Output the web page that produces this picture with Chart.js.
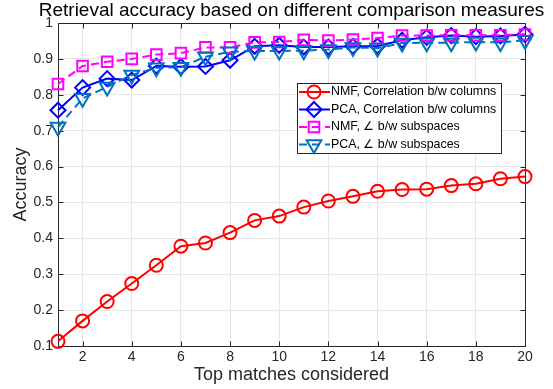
<!DOCTYPE html>
<html>
<head>
<meta charset="utf-8">
<script src="https://cdn.jsdelivr.net/npm/chart.js@4.4.1/dist/chart.umd.min.js"></script>
<style>
  html, body { margin: 0; padding: 0; background: #fff; }
  #wrap { position: relative; width: 553px; height: 389px; }
</style>
</head>
<body>
<div id="wrap"><canvas id="chart"></canvas></div>
<script>
// top matches considered (x)
const matches = [1, 2, 3, 4, 5, 6, 7, 8, 9, 10, 11, 12, 13, 14, 15, 16, 17, 18, 19, 20];

// accuracy per comparison measure
const nmfCorr = [0.113, 0.170, 0.224, 0.274, 0.325, 0.378, 0.387, 0.416, 0.450, 0.462,
                 0.487, 0.504, 0.517, 0.531, 0.536, 0.537, 0.547, 0.552, 0.566, 0.572];
const pcaCorr = [0.757, 0.820, 0.845, 0.841, 0.880, 0.878, 0.879, 0.896, 0.935, 0.938,
                 0.933, 0.933, 0.935, 0.936, 0.952, 0.960, 0.965, 0.962, 0.964, 0.968];
const nmfAngle = [0.830, 0.880, 0.892, 0.900, 0.912, 0.916, 0.932, 0.932, 0.946, 0.947,
                  0.953, 0.951, 0.954, 0.958, 0.965, 0.965, 0.966, 0.966, 0.966, 0.968];
const pcaAngle = [0.710, 0.790, 0.822, 0.855, 0.875, 0.877, 0.906, 0.920, 0.922, 0.922,
                  0.923, 0.926, 0.932, 0.930, 0.944, 0.945, 0.945, 0.947, 0.946, 0.952];

const seriesNames = [
  "NMF, Correlation b/w columns",
  "PCA, Correlation b/w columns",
  "NMF, \u2220 b/w subspaces",
  "PCA, \u2220 b/w subspaces"
];

const titleText = "Retrieval accuracy based on different comparison measures";
const xTicks = [2, 4, 6, 8, 10, 12, 14, 16, 18, 20];
const yTicks = [0.1, 0.2, 0.3, 0.4, 0.5, 0.6, 0.7, 0.8, 0.9, 1];

const axisColor = "#262626";
const fontFamily = "'Liberation Sans', Arial, Helvetica, sans-serif";

function pts(arr) {
  return arr.map((v, i) => ({ x: matches[i], y: v }));
}

// draw one marker by hand (used for the legend)
function marker(ctx, style, x, y, r, rot) {
  ctx.beginPath();
  if (style === "circle") {
    ctx.arc(x, y, r, 0, Math.PI * 2);
  } else if (style === "rect") {
    const s = r * Math.SQRT1_2;
    ctx.rect(x - s, y - s, 2 * s, 2 * s);
  } else if (style === "rectRot") {
    ctx.moveTo(x, y - r); ctx.lineTo(x + r, y); ctx.lineTo(x, y + r); ctx.lineTo(x - r, y); ctx.closePath();
  } else if (style === "triangle") {
    let a = (rot || 0) * Math.PI / 180;
    for (let k = 0; k < 3; k++) {
      const px = x + Math.sin(a) * r, py = y - Math.cos(a) * r;
      if (k === 0) ctx.moveTo(px, py); else ctx.lineTo(px, py);
      a += Math.PI * 2 / 3;
    }
    ctx.closePath();
  }
  ctx.stroke();
}

// box around the axes with inward tick marks on all sides
const boxPlugin = {
  id: "box",
  beforeDatasetsDraw(chart) {
    const { ctx, chartArea: a, scales: { x, y } } = chart;
    ctx.save();
    ctx.strokeStyle = axisColor;
    ctx.lineWidth = 1;
    const L = Math.round(a.left) + 0.5, R = Math.round(a.right) + 0.5;
    const T = Math.round(a.top) + 0.5, B = Math.round(a.bottom) + 0.5;
    ctx.strokeRect(L, T, R - L, B - T);
    ctx.beginPath();
    xTicks.forEach(v => {
      const px = Math.round(x.getPixelForValue(v)) + 0.5;
      ctx.moveTo(px, B); ctx.lineTo(px, B - 5);
      ctx.moveTo(px, T); ctx.lineTo(px, T + 5);
    });
    yTicks.forEach(v => {
      const py = Math.round(y.getPixelForValue(v)) + 0.5;
      ctx.moveTo(L, py); ctx.lineTo(L + 5, py);
      ctx.moveTo(R, py); ctx.lineTo(R - 5, py);
    });
    ctx.stroke();
    ctx.restore();
  }
};

// title centred over the axes, like matlab does
const titlePlugin = {
  id: "axTitle",
  afterDraw(chart) {
    const { ctx, chartArea: a } = chart;
    ctx.save();
    ctx.fillStyle = "#000";
    ctx.font = "19px " + fontFamily;
    ctx.textAlign = "center";
    ctx.textBaseline = "middle";
    ctx.fillText(titleText, (a.left + a.right) / 2, 11);
    ctx.restore();
  }
};

// legend box inside the plot, top right
const legendPlugin = {
  id: "legendBox",
  afterDraw(chart) {
    const ctx = chart.ctx;
    const bx = 297, by = 83, bw = 204, bh = 70;
    ctx.save();
    ctx.fillStyle = "#fff";
    ctx.fillRect(bx, by, bw, bh);
    ctx.strokeStyle = axisColor;
    ctx.lineWidth = 1;
    ctx.strokeRect(bx + 0.5, by + 0.5, bw, bh);
    chart.data.datasets.forEach((ds, i) => {
      const cy = by + 9 + i * 17.5;
      ctx.strokeStyle = ds.borderColor;
      ctx.lineWidth = ds.borderWidth;
      ctx.setLineDash(ds.borderDash || []);
      ctx.beginPath();
      ctx.moveTo(bx + 2, cy);
      ctx.lineTo(bx + 33, cy);
      ctx.stroke();
      ctx.setLineDash([]);
      ctx.lineWidth = ds.pointBorderWidth;
      marker(ctx, ds.pointStyle, bx + 17, cy, ds.pointRadius, ds.pointRotation);
      ctx.fillStyle = "#000";
      ctx.font = "12.4px " + fontFamily;
      ctx.textBaseline = "middle";
      ctx.textAlign = "left";
      ctx.fillText(ds.label, bx + 34, cy);
    });
    ctx.restore();
  }
};

const ctx = document.getElementById("chart").getContext("2d");
new Chart(ctx, {
  type: "line",
  data: {
    datasets: [
      {
        label: seriesNames[0],
        data: pts(nmfCorr),
        borderColor: "#ff0000",
        borderWidth: 2,
        pointStyle: "circle",
        pointRadius: 6.5,
        pointBorderWidth: 2,
        pointBackgroundColor: "rgba(0,0,0,0)",
        order: 3
      },
      {
        label: seriesNames[1],
        data: pts(pcaCorr),
        borderColor: "#0000ff",
        borderWidth: 2,
        pointStyle: "rectRot",
        pointRadius: 7.5,
        pointBorderWidth: 2,
        pointBackgroundColor: "rgba(0,0,0,0)",
        order: 2
      },
      {
        label: seriesNames[2],
        data: pts(nmfAngle),
        borderColor: "#ff00ff",
        borderWidth: 2,
        borderDash: [8, 5],
        pointStyle: "rect",
        pointRadius: 7.5,
        pointBorderWidth: 2,
        pointBackgroundColor: "rgba(0,0,0,0)",
        order: 1
      },
      {
        label: seriesNames[3],
        data: pts(pcaAngle),
        borderColor: "#0072bd",
        borderWidth: 2,
        borderDash: [8, 5],
        pointStyle: "triangle",
        pointRotation: 180,
        pointRadius: 8.5,
        pointBorderWidth: 2,
        pointBackgroundColor: "rgba(0,0,0,0)",
        order: 0
      }
    ]
  },
  options: {
    responsive: true,
    maintainAspectRatio: false,
    animation: false,
    devicePixelRatio: 1,
    layout: { padding: { left: 0, right: 28, top: 23, bottom: 0 } },
    elements: { line: { tension: 0, fill: false } },
    datasets: { line: { clip: false } },
    plugins: {
      legend: { display: false },
      tooltip: { enabled: false },
      title: { display: false }
    },
    scales: {
      x: {
        type: "linear",
        min: 1,
        max: 20,
        afterBuildTicks: s => { s.ticks = xTicks.map(v => ({ value: v })); },
        afterFit: s => { s.height = 43; },
        ticks: {
          color: axisColor,
          font: { family: fontFamily, size: 14 },
          padding: 3,
          maxRotation: 0,
          autoSkip: false
        },
        grid: { color: "#e6e6e6", drawTicks: false },
        border: { display: false },
        title: {
          display: true,
          text: "Top matches considered",
          color: axisColor,
          font: { family: fontFamily, size: 18 },
          padding: { top: 0, bottom: 3 }
        }
      },
      y: {
        min: 0.1,
        max: 1,
        afterBuildTicks: s => { s.ticks = yTicks.map(v => ({ value: v })); },
        afterFit: s => { s.width = 58; },
        ticks: {
          color: axisColor,
          font: { family: fontFamily, size: 14 },
          padding: 5,
          callback: v => String(+v.toFixed(1))
        },
        grid: { color: "#e6e6e6", drawTicks: false },
        border: { display: false },
        title: {
          display: true,
          text: "Accuracy",
          color: axisColor,
          font: { family: fontFamily, size: 18 },
          padding: { top: 10, bottom: 0 }
        }
      }
    }
  },
  plugins: [boxPlugin, titlePlugin, legendPlugin]
});
</script>
</body>
</html>
